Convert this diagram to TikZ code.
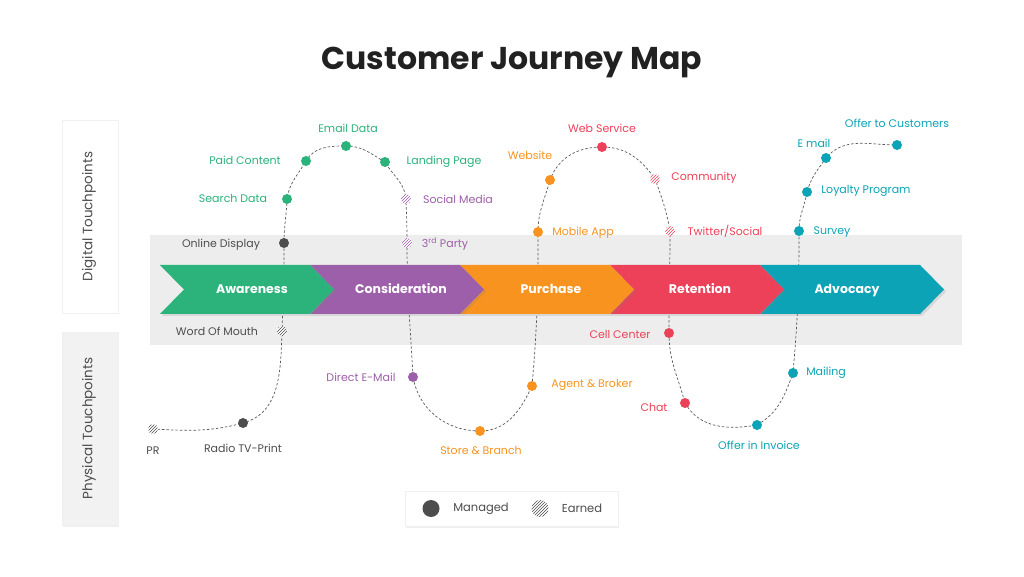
\documentclass[tikz,border=0pt]{standalone}
\usepackage{fontspec}
\setmainfont{Poppins}
\usetikzlibrary{patterns,shadows}
\definecolor{cjgreen}{HTML}{2BB37B}
\definecolor{cjpurple}{HTML}{9D5FA9}
\definecolor{cjorange}{HTML}{F7931E}
\definecolor{cjred}{HTML}{EC4158}
\definecolor{cjteal}{HTML}{0BA3B5}
\definecolor{cjgray}{HTML}{4D4D4D}
\definecolor{cjband}{HTML}{EDEDED}

\begin{document}
\begin{tikzpicture}[x=1pt,y=1pt,
    every node/.style={font=\fontsize{11}{13}\selectfont},
    trail/.style={draw=black!65,line width=0.7pt,dash pattern=on 2.5pt off 2pt},
    mdot/.style={circle,fill=#1,inner sep=0pt,minimum size=10pt},
    edot/.style={circle,preaction={fill=white},pattern=north east lines,
                 pattern color=#1,inner sep=0pt,minimum size=10pt},
    lbl/.style={text=#1,inner sep=1pt},
    stage/.style={text=white,anchor=base,font=\fontsize{12.5}{14}\selectfont\bfseries},
    sidebox/.style={draw=black!6,line width=0.6pt,
                    drop shadow={opacity=0.12,shadow xshift=1pt,shadow yshift=-1.5pt}},
    sidetext/.style={rotate=90,text=cjgray,font=\fontsize{13.5}{15}\selectfont},
  ]
  \useasboundingbox (0,0) rectangle (1024,576);
  \fill[white] (0,0) rectangle (1024,576);

  % title
  \node[font=\fontsize{31.5}{36}\selectfont\bfseries,text=black!87] (title) at (512,513) {Customer Journey Map};

  % side boxes
  \filldraw[fill=white,sidebox] (62,263) rectangle (118,456);
  \filldraw[fill=black!5,sidebox] (62,51) rectangle (118,244);
  \node[sidetext] (digital) at (89,359.5) {Digital Touchpoints};
  \node[sidetext] (physical) at (89,147.5) {Physical Touchpoints};

  % band
  \fill[cjband] (150,231) rectangle (962,341);

  % touchpoints
  \coordinate (pr) at (153,147);
  \coordinate (radio) at (243,153);
  \coordinate (wom) at (282,245);
  \coordinate (onl) at (284,333);
  \coordinate (search) at (287,377);
  \coordinate (paid) at (306,415);
  \coordinate (email) at (346,430);
  \coordinate (landing) at (385,414);
  \coordinate (social) at (406,377);
  \coordinate (third) at (407,333);
  \coordinate (direct) at (413,199);
  \coordinate (store) at (480,145);
  \coordinate (agent) at (532,190);
  \coordinate (mobile) at (538,344);
  \coordinate (website) at (550,396);
  \coordinate (websvc) at (602,429);
  \coordinate (community) at (655,397);
  \coordinate (twitter) at (670,345);
  \coordinate (cell) at (669,243);
  \coordinate (chat) at (685,173);
  \coordinate (invoice) at (757,151);
  \coordinate (mailing) at (793,203);
  \coordinate (survey) at (799,345);
  \coordinate (loyalty) at (807,384);
  \coordinate (emailb) at (826,418);
  \coordinate (offer) at (897,431);

  % journey line
  \draw[trail] (pr) to[out=-3,in=195] (radio) to[out=15,in=-92] (wom)
    to[out=88,in=-90] (onl) to[out=90,in=-92] (search) to[out=82,in=240] (paid)
    to[out=60,in=180] (email) to[out=0,in=150] (landing) to[out=-60,in=95] (social)
    to[out=-88,in=90] (third) to[out=-90,in=93] (direct) to[out=-80,in=180] (store)
    to[out=0,in=-115] (agent) to[out=85,in=-90] (mobile) to[out=90,in=-105] (website)
    to[out=70,in=180] (websvc) to[out=0,in=125] (community) to[out=-70,in=100] (twitter)
    to[out=-90,in=90] (cell) to[out=-90,in=105] (chat) to[out=-60,in=190] (invoice)
    to[out=30,in=-110] (mailing) to[out=85,in=-90] (survey) to[out=90,in=-100] (loyalty)
    to[out=75,in=235] (emailb) to[out=50,in=180] (offer);

  % stages, right to left
  \foreach \x/\w/\m/\c/\t in {760/160/847/cjteal/Advocacy, 610/150/700/cjred/Retention,
                              460/150/551/cjorange/Purchase, 310/150/401/cjpurple/Consideration,
                              160/150/252/cjgreen/Awareness}
  {
    \fill[\c,drop shadow={opacity=0.2,shadow xshift=2pt,shadow yshift=-2pt}]
      (\x,311) -- ++(\w,0) -- ++(24,-24.5) -- ++(-24,-24.5) -- ++(-\w,0) -- ++(24,24.5) -- cycle;
    \node[stage] (\t) at (\m,282.5) {\t};
  }

  \node[edot=cjgray] (prdot) at (pr) {};
  \node[mdot=cjgray] (radiodot) at (radio) {};
  \node[edot=cjgray] (womdot) at (wom) {};
  \node[mdot=cjgray] (onldot) at (onl) {};
  \node[mdot=cjgreen] (searchdot) at (search) {};
  \node[mdot=cjgreen] (paiddot) at (paid) {};
  \node[mdot=cjgreen] (emaildot) at (email) {};
  \node[mdot=cjgreen] (landingdot) at (landing) {};
  \node[edot=cjpurple] (socialdot) at (social) {};
  \node[edot=cjpurple] (thirddot) at (third) {};
  \node[mdot=cjpurple] (directdot) at (direct) {};
  \node[mdot=cjorange] (storedot) at (store) {};
  \node[mdot=cjorange] (agentdot) at (agent) {};
  \node[mdot=cjorange] (mobiledot) at (mobile) {};
  \node[mdot=cjorange] (websitedot) at (website) {};
  \node[mdot=cjred] (websvcdot) at (websvc) {};
  \node[edot=cjred] (communitydot) at (community) {};
  \node[edot=cjred] (twitterdot) at (twitter) {};
  \node[mdot=cjred] (celldot) at (cell) {};
  \node[mdot=cjred] (chatdot) at (chat) {};
  \node[mdot=cjteal] (invoicedot) at (invoice) {};
  \node[mdot=cjteal] (mailingdot) at (mailing) {};
  \node[mdot=cjteal] (surveydot) at (survey) {};
  \node[mdot=cjteal] (loyaltydot) at (loyalty) {};
  \node[mdot=cjteal] (emailbdot) at (emailb) {};
  \node[mdot=cjteal] (offerdot) at (offer) {};

  % labels
  \node[lbl=cjgray] (prlbl) at (153,125) {PR};
  \node[lbl=cjgray] (radiolbl) at (243,128) {Radio TV-Print};
  \node[lbl=cjgray] (womlbl) at (217,245) {Word Of Mouth};
  \node[lbl=cjgray] (onllbl) at (221,331) {Online Display};
  \node[lbl=cjgreen] (searchlbl) at (233,378) {Search Data};
  \node[lbl=cjgreen] (paidlbl) at (245,416) {Paid Content};
  \node[lbl=cjgreen] (emaillbl) at (348,448) {Email Data};
  \node[lbl=cjgreen] (landinglbl) at (444,414) {Landing Page};
  \node[lbl=cjpurple] (sociallbl) at (458,377) {Social Media};
  \node[lbl=cjpurple] (thirdlbl) at (445,332) {3\textsuperscript{rd} Party};
  \node[lbl=cjpurple] (directlbl) at (361,199) {Direct E-Mail};
  \node[lbl=cjorange] (storelbl) at (481,126) {Store \& Branch};
  \node[lbl=cjorange] (agentlbl) at (592,191) {Agent \& Broker};
  \node[lbl=cjorange] (mobilelbl) at (583,343) {Mobile App};
  \node[lbl=cjorange] (websitelbl) at (530,421) {Website};
  \node[lbl=cjred] (websvclbl) at (602,448) {Web Service};
  \node[lbl=cjred] (communitylbl) at (704,398) {Community};
  \node[lbl=cjred] (twitterlbl) at (725,345) {Twitter/Social};
  \node[lbl=cjred] (celllbl) at (620,242) {Cell Center};
  \node[lbl=cjred] (chatlbl) at (654,169) {Chat};
  \node[lbl=cjteal] (invoicelbl) at (759,131) {Offer in Invoice};
  \node[lbl=cjteal] (mailinglbl) at (826,203) {Mailing};
  \node[lbl=cjteal] (surveylbl) at (832,344) {Survey};
  \node[lbl=cjteal] (loyaltylbl) at (866,385) {Loyalty Program};
  \node[lbl=cjteal] (emailblbl) at (814,433) {E mail};
  \node[lbl=cjteal] (offerlbl) at (897,453) {Offer to Customers};

  % legend
  \filldraw[fill=white,sidebox] (405,50) rectangle (618,85);
  \node[mdot=cjgray,minimum size=17pt] (managedkey) at (431,67.5) {};
  \node[lbl=cjgray,font=\fontsize{11.5}{13}\selectfont] (managedlbl) at (481,67.5) {Managed};
  \node[edot=cjgray,minimum size=17pt] (earnedkey) at (540,67.5) {};
  \node[lbl=cjgray,font=\fontsize{11.5}{13}\selectfont] (earnedlbl) at (582,67.5) {Earned};
\end{tikzpicture}
\end{document}
